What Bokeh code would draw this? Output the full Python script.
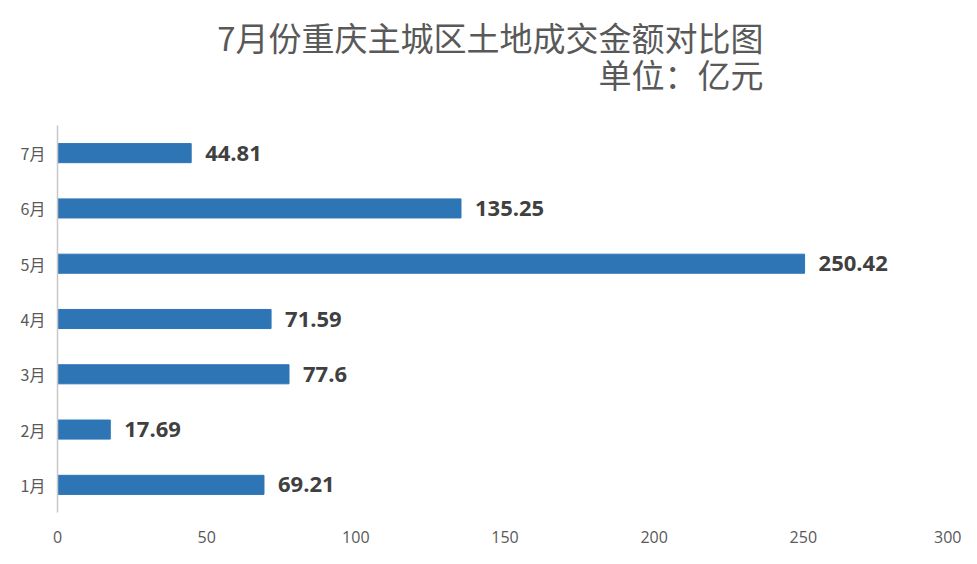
from bokeh.plotting import figure
from bokeh.models import ColumnDataSource, FactorRange, Range1d, FixedTicker, Title
from bokeh.core.properties import value
from bokeh.embed import file_html
from bokeh.resources import INLINE

months = ["1月", "2月", "3月", "4月", "5月", "6月", "7月"]
amounts = [69.21, 17.69, 77.6, 71.59, 250.42, 135.25, 44.81]
amount_labels = ["69.21", "17.69", "77.6", "71.59", "250.42", "135.25", "44.81"]
x_ticks = [0, 50, 100, 150, 200, 250, 300]
title_line1 = "7月份重庆主城区土地成交金额对比图"
title_line2 = "单位：亿元"

src = ColumnDataSource(dict(m=months, v=amounts, t=amount_labels))

p = figure(width=961, height=548, output_backend="svg", toolbar_location=None,
           y_range=FactorRange(factors=months, range_padding=0),
           x_range=Range1d(0, 300), title=None,
           min_border_left=57, min_border_right=9, min_border_top=125, min_border_bottom=36)
p.background_fill_color = "white"
p.border_fill_color = "white"
p.outline_line_color = None
p.xgrid.visible = False
p.ygrid.visible = False

p.hbar(y="m", right="v", left=0, height=0.345, source=src, color="#2E75B6")
p.text(x="v", y="m", text="t", source=src, x_offset=14, text_baseline="middle",
       text_align="left", text_font=value("Open Sans"), text_font_style="bold",
       text_font_size="22px", text_color="#404040")

xa = p.xaxis[0]
xa.ticker = FixedTicker(ticks=x_ticks)
xa.axis_line_color = None
xa.major_tick_line_color = None
xa.minor_tick_line_color = None
xa.major_tick_out = 0
xa.major_label_standoff = 18
xa.major_label_text_font = "Open Sans"
xa.major_label_text_font_size = "16px"
xa.major_label_text_color = "#595959"

ya = p.yaxis[0]
ya.axis_line_color = "#C8C8C8"
ya.axis_line_width = 1.5
ya.major_tick_line_color = None
ya.minor_tick_line_color = None
ya.major_tick_out = 0
ya.major_label_standoff = 12
ya.major_label_text_font = "Noto Sans CJK SC"
ya.major_label_text_font_size = "16px"
ya.major_label_text_color = "#595959"

t2 = Title(text=title_line2, align="right", offset=189, standoff=56,
           text_font="Noto Sans CJK SC", text_font_size="33px",
           text_font_style="normal", text_color="#595959")
t1 = Title(text=title_line1, align="right", offset=189, standoff=-82,
           text_font="Noto Sans CJK SC", text_font_size="33px",
           text_font_style="normal", text_color="#595959")
p.add_layout(t2, "above")
p.add_layout(t1, "above")

open("out.html", "w").write(file_html(p, INLINE))
